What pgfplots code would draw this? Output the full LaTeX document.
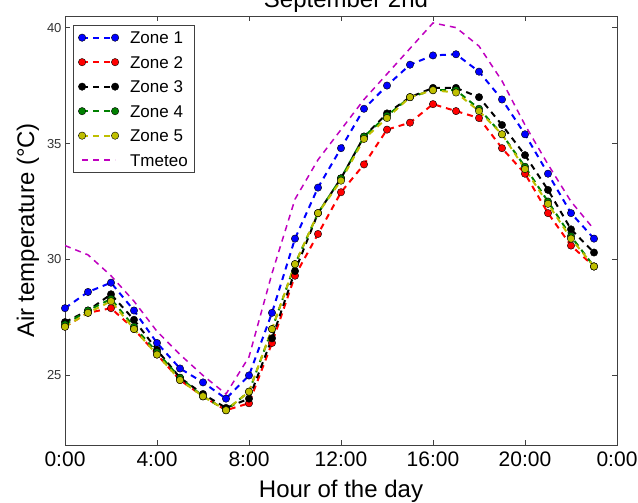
\documentclass[border=0pt]{standalone}
\usepackage{pgfplots}
\pgfplotsset{compat=1.18}
\usepackage{pgfplotstable}
\usepackage{fontspec}
\setmainfont{Liberation Sans}
\definecolor{mblue}{rgb}{0,0,1}
\definecolor{mred}{rgb}{1,0,0}
\definecolor{mgreen}{rgb}{0,0.5,0}
\definecolor{myellow}{rgb}{0.75,0.75,0}
\definecolor{mmag}{rgb}{0.75,0,0.75}

\pgfplotstableread{
h  z1    z2   z3   z4   z5   tm
0  27.9  27.1 27.3 27.2 27.1 30.6
1  28.6  27.7 27.8 27.8 27.7 30.2
2  29.0  27.9 28.5 28.3 28.2 29.3
3  27.8  27.0 27.4 27.1 27.0 28.2
4  26.4  25.9 26.1 26.0 25.9 26.9
5  25.3  24.8 24.9 24.9 24.8 25.9
6  24.7  24.1 24.2 24.1 24.1 25.0
7  24.0  23.5 23.6 23.5 23.5 24.2
8  25.0  23.8 24.0 24.3 24.3 25.8
9  27.7  26.4 26.6 27.0 27.0 29.4
10 30.9  29.3 29.5 29.8 29.8 32.6
11 33.1  31.1 32.0 32.0 32.0 34.3
12 34.8  32.9 33.5 33.5 33.4 35.6
13 36.5  34.1 35.3 35.3 35.2 36.9
14 37.5  35.6 36.3 36.2 36.1 38.0
15 38.4  35.9 37.0 37.0 37.0 39.1
16 38.8  36.7 37.4 37.3 37.3 40.2
17 38.85 36.4 37.4 37.3 37.2 40.0
18 38.1  36.1 37.0 36.5 36.4 39.2
19 36.9  34.8 35.8 35.4 35.4 37.7
20 35.4  33.7 34.5 34.0 33.9 35.8
21 33.7  32.0 33.0 32.5 32.4 34.1
22 32.0  30.6 31.3 31.0 30.9 32.5
23 30.9  29.7 30.3 29.7 29.7 31.3
}\data

\begin{document}
\begin{tikzpicture}
\pgfplotsset{
  zl/.style={#1, line width=2pt, dash pattern=on 6pt off 5pt, mark=*, mark size=3.7pt,
    mark options={solid, fill=#1, draw=black, line width=0.4pt}},
}
\begin{axis}[
  scale only axis, width=552pt, height=429pt,
  xmin=0, xmax=24, ymin=22, ymax=40.5,
  xtick={0,4,...,24},
  xticklabels={0:00,4:00,8:00,12:00,16:00,20:00,0:00},
  ytick={25,30,35,40},
  /pgf/number format/assume math mode=true,
  axis line style={black!75, line width=0.8pt},
  tick style={black!75, line width=0.6pt},
  major tick length=5pt,
  xticklabel style={font=\fontsize{21}{21}\selectfont, yshift=-3pt},
  yticklabel style={font=\fontsize{13}{13}\selectfont, black!80},
  xlabel={Hour of the day},
  ylabel={Air temperature (°C)},
  every axis x label/.style={at={(axis description cs:0.5,0)}, anchor=base, yshift=-52pt, font=\fontsize{24}{24}\selectfont},
  every axis y label/.style={at={(axis description cs:-0.067,0.5)}, rotate=90, anchor=center, font=\fontsize{24}{24}\selectfont},
  title={September 2nd},
  every axis title/.style={at={(axis description cs:0.5,1)}, anchor=base, yshift=8pt, xshift=5pt, font=\fontsize{24}{24}\selectfont},
  legend style={at={(rel axis cs:0,1)}, anchor=north west, xshift=8pt, yshift=-9pt,
    draw=black!75, line width=0.8pt, font=\fontsize{17}{20}\selectfont,
    nodes={inner sep=2pt, text height=12.5pt, text depth=0pt},
    row sep=8pt, inner xsep=5pt, inner ysep=4pt},
  legend cell align=left,
  legend image code/.code={\draw[#1] plot coordinates {(0pt,0pt) (33pt,0pt)}; \path (45pt,0pt);},
]
\addplot[zl=mblue] table[x=h,y=z1] {\data};
\addlegendentry{Zone 1}
\addplot[zl=mred] table[x=h,y=z2] {\data};
\addlegendentry{Zone 2}
\addplot[zl=black] table[x=h,y=z3] {\data};
\addlegendentry{Zone 3}
\addplot[zl=mgreen] table[x=h,y=z4] {\data};
\addlegendentry{Zone 4}
\addplot[zl=myellow] table[x=h,y=z5] {\data};
\addlegendentry{Zone 5}
\addplot[mmag, line width=1.5pt, dash pattern=on 6pt off 5pt] table[x=h,y=tm] {\data};
\addlegendentry{Tmeteo}
\end{axis}
\pgfresetboundingbox
\useasboundingbox ([shift={(-65pt,-57pt)}]current axis.south west) rectangle ([shift={(21pt,16pt)}]current axis.north east);
\end{tikzpicture}
\end{document}
